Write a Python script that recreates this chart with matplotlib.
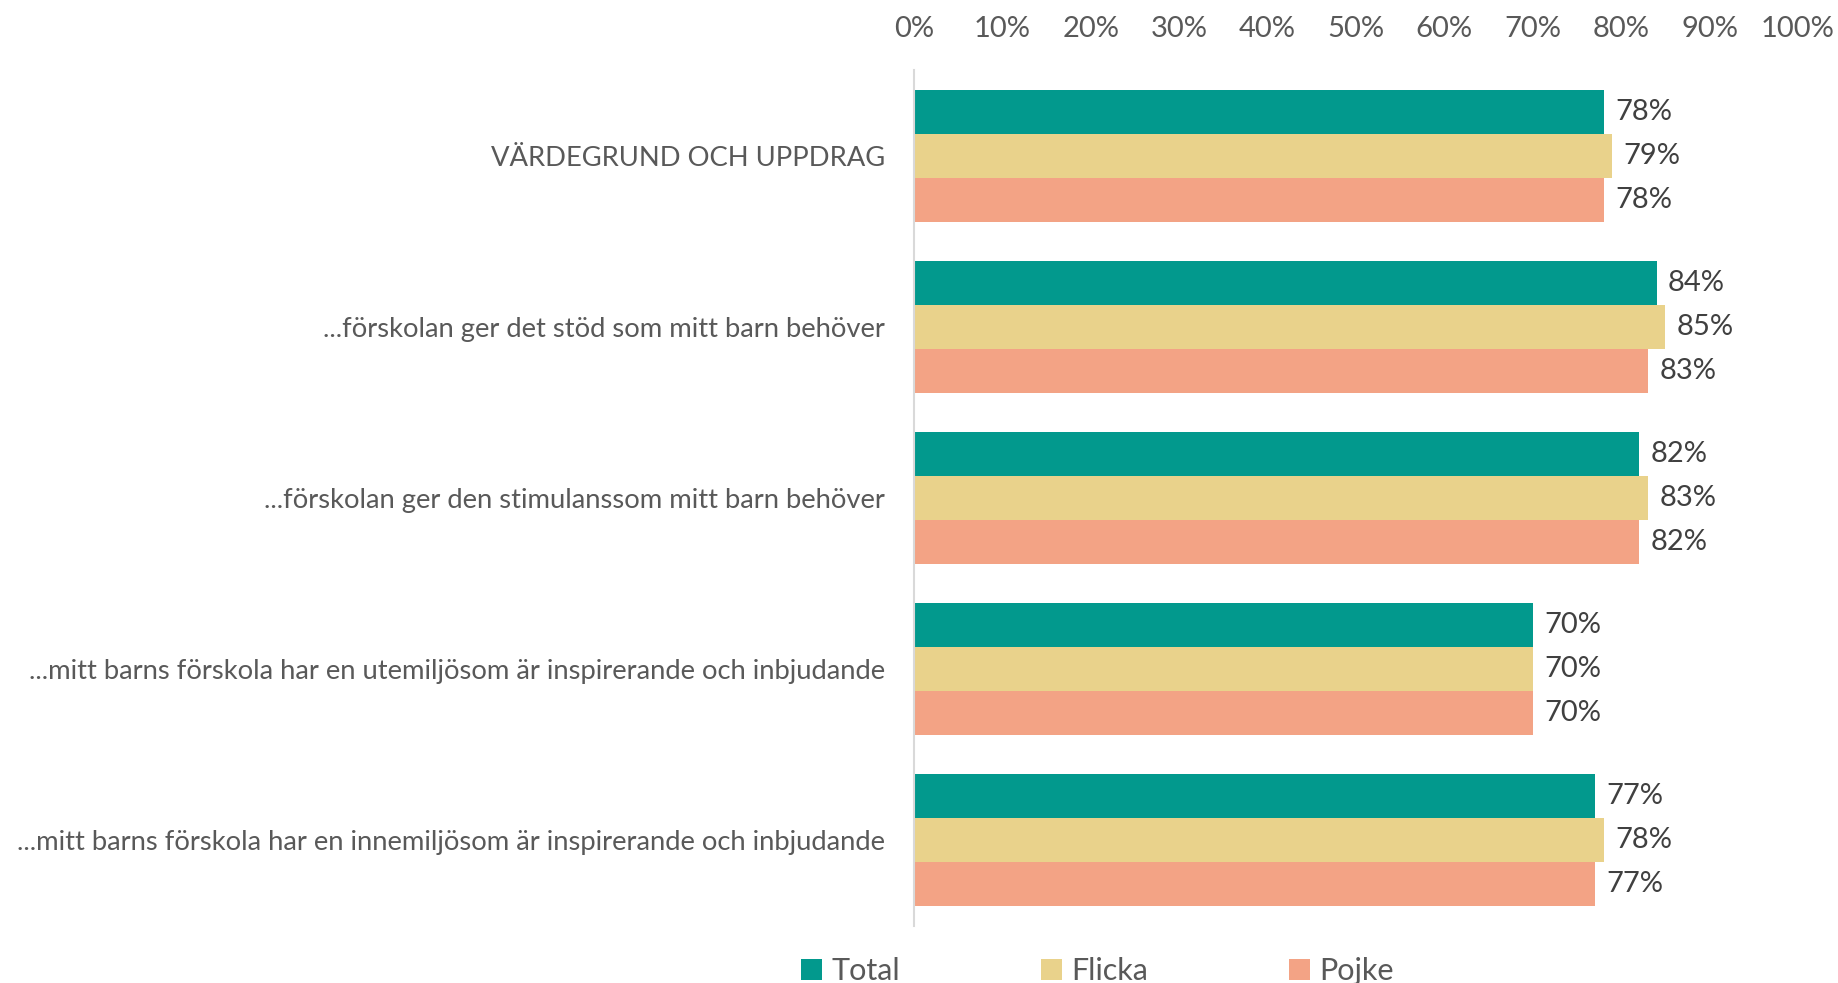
import matplotlib.pyplot as plt
import numpy as np
from matplotlib.patches import Patch

# Data
categories = [
    "VÄRDEGRUND OCH UPPDRAG",
    "...förskolan ger det stöd som mitt barn behöver",
    "...förskolan ger den stimulanssom mitt barn behöver",
    "...mitt barns förskola har en utemiljösom är inspirerande och inbjudande",
    "...mitt barns förskola har en innemiljösom är inspirerande och inbjudande",
]
series_names = ["Total", "Flicka", "Pojke"]
total = [0.78, 0.84, 0.82, 0.70, 0.77]
flicka = [0.79, 0.85, 0.83, 0.70, 0.78]
pojke = [0.78, 0.83, 0.82, 0.70, 0.77]
tick_values = [0.0, 0.1, 0.2, 0.3, 0.4, 0.5, 0.6, 0.7, 0.8, 0.9, 1.0]

colors = ["#02998D", "#E9D28B", "#F3A385"]

plt.rcParams["font.family"] = ["Lato", "DejaVu Sans"]

fig = plt.figure(figsize=(18.38, 9.83), dpi=100)
ax = fig.add_axes([914 / 1838, 1 - 926 / 983, (1798 - 914) / 1838, (926 - 70) / 983])

y = np.arange(len(categories))
bar_h = 0.257
for i, (name, vals) in enumerate(zip(series_names, [total, flicka, pojke])):
    pos = y + (i - 1) * bar_h
    ax.barh(pos, vals, height=bar_h, color=colors[i], label=name)
    for p, v in zip(pos, vals):
        ax.text(v + 0.013, p, f"{v * 100:.0f}%", va="center", ha="left",
                fontsize=21, color="#404040")

ax.set_xlim(0, 1)
ax.set_ylim(len(categories) - 0.5, -0.5)
ax.xaxis.tick_top()
ax.set_xticks(tick_values)
ax.set_xticklabels([f"{t * 100:.0f}%" for t in tick_values], fontsize=21, color="#595959")
ax.tick_params(axis="x", length=0, pad=20)
ax.set_yticks(y)
ax.set_yticklabels(categories, fontsize=19.7, color="#595959")
ax.tick_params(axis="y", length=0, pad=21)

for side in ["top", "right", "bottom"]:
    ax.spines[side].set_visible(False)
ax.spines["left"].set_color("#D9D9D9")
ax.spines["left"].set_linewidth(1.5)

handles = [Patch(facecolor=c, edgecolor="none") for c in colors]
fig.legend(handles, series_names, loc="lower center", bbox_to_anchor=(0.597, -0.03),
           ncol=3, frameon=False, fontsize=22, labelcolor="#595959",
           handlelength=0.7, handleheight=0.7, handletextpad=0.3, columnspacing=4.6)

fig.savefig("out.png", dpi=100)
plt.close(fig)
